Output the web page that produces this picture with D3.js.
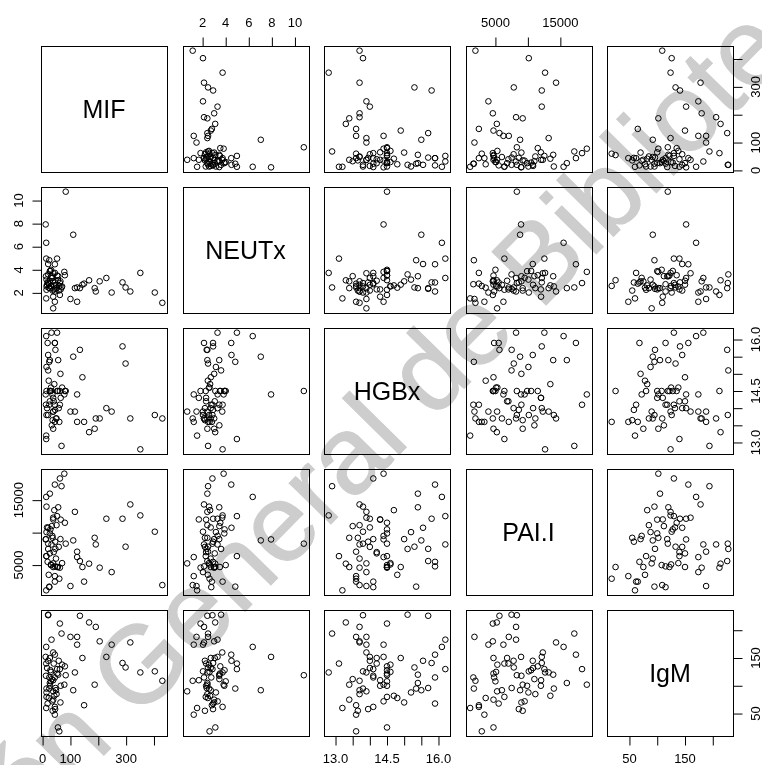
<!DOCTYPE html>
<html><head><meta charset="utf-8">
<script src="https://cdn.jsdelivr.net/npm/d3@7"></script>
<style>body{margin:0;background:#fff}svg{display:block}</style>
</head><body><svg id="c" width="762" height="765"></svg>
<script>
const varNames = ["MIF","NEUTx","HGBx","PAI.I","IgM"];
const MIF   = [430,403,351,315,298,287,248,229,205,191,187,167,149,143,134,124,124,116,110,100,83,11,13,
               13,24,52,20,44,26,44,78,80,56,12,14,32,38,20,62,14,26,50,68,14,44,62,38,13,44,38,
               20,30,35,40,45,55,60,65,28,18,48,58,22,70,33,42,26,36,52,16,64,30,46,24,38];
const NEUTx = [1.14,2.03,3.73,2.12,2.47,2.91,2.03,3.29,3.0,2.12,2.41,3.09,2.8,2.71,2.41,2.47,1.23,2.41,7.04,1.47,10.77,7.93,6.34,
               4.97,4.83,4.97,4.5,4.48,3.88,3.73,3.82,3.53,3.44,3.44,3.15,3.29,3.0,2.85,2.85,2.56,2.41,2.41,2.47,2.27,2.12,1.82,1.67,1.52,1.23,0.66,
               3.6,2.6,3.3,2.3,2.9,3.1,2.6,2.3,3.9,2.9,2.7,2.2,2.45,2.55,3.45,2.65,3.05,2.2,3.5,2.7,3.0,4.0,2.35,2.75,3.7];
const HGBx  = [13.7,13.8,12.8,13.7,15.3,15.8,13.9,14.0,13.7,13.7,13.4,13.3,13.6,14.9,15.7,13.6,14.4,13.9,15.5,13.9,14.5,14.4,16.1,
               13.1,15.35,16.2,15.55,15.9,14.5,14.1,14.4,14.5,15.4,14.1,15.2,16.2,13.4,13.8,14.1,13.8,15.4,13.7,12.9,14.5,15.9,14.5,14.3,13.2,13.6,13.9,
               15.1,14.6,14.4,14.2,13.95,14.5,13.6,14.3,14.5,15.9,13.7,14.0,14.8,14.6,13.5,14.7,14.2,13.65,14.5,14.0,15.0,14.5,15.7,14.1,13.9];
const PAI   = [1920,10140,12650,14340,7830,12140,3920,12140,4600,8180,9200,5215,2450,4700,5620,7060,6230,13200,8800,1770,8300,8950,15500,
               6380,1680,12540,10750,17400,9880,2450,19080,11520,13900,9000,10080,8180,4700,8300,18340,14000,16000,11150,17150,6380,4800,4600,12030,1110,3300,5260,
               7480,5100,9500,7000,8600,4700,2900,12000,10500,5500,6000,7800,3500,5300,11000,13460,6800,9200,4700,10800,9000,5000,7500,1600,12300];
const IgM   = [109,126,124,178,133,141,174,152,180,206,102,214,65,150,226,188,174,124,92,188,119,152,170,
               140,95,130,145,156,100,62,102,135,120,118,88,183,75,227,130,95,105,85,194,80,115,212,110,60,48,90,
               228,125,72,140,58,25,18,100,128,68,92,145,78,138,112,82,150,55,122,132,70,108,96,115,160];

const tickValues = [[0,100,200,300,400],[2,4,6,8,10],[13,13.5,14,14.5,15,15.5,16],[5000,10000,15000],[50,100,150,200]];
const tickLabels = [["0","100","","300",""],["2","4","6","8","10"],["13.0","","","14.5","","","16.0"],["5000","","15000"],["50","","150",""]];
const watermark = "Dirección General de Bibliotecas";

const cols = [MIF, NEUTx, HGBx, PAI, IgM];
const n = varNames.length;
const colX = [41,182.5,324,465.5,607];
const rowY = [46,187,328,469,610];
const size = 126;
const font = "'Liberation Sans', Arial, Helvetica, sans-serif";

const svg = d3.select("#c");

function dom(arr){ const [a,b]=d3.extent(arr); const p=(b-a)*0.04; return [a-p,b+p]; }
const xScales = cols.map((c,i)=>d3.scaleLinear().domain(dom(c)).range([colX[i], colX[i]+size]));
const yScales = cols.map((c,i)=>d3.scaleLinear().domain(dom(c)).range([rowY[i]+size, rowY[i]]));

const plot = svg.append("g");
for (let r=0;r<n;r++){
  for (let c=0;c<n;c++){
    const g = plot.append("g");
    if (r===c){
      g.append("text").attr("x",colX[c]+size/2).attr("y",rowY[r]+size/2)
        .attr("text-anchor","middle").attr("dominant-baseline","central")
        .attr("font-family",font).attr("font-size",25).text(varNames[r]);
    } else {
      const xs = xScales[c], ys = yScales[r];
      g.selectAll("circle").data(d3.range(MIF.length)).join("circle")
        .attr("cx",k=>xs(cols[c][k])).attr("cy",k=>ys(cols[r][k])).attr("r",2.8)
        .attr("fill","none").attr("stroke","#000").attr("stroke-width",1);
    }
    g.append("rect").attr("x",Math.round(colX[c])+0.5).attr("y",Math.round(rowY[r])+0.5)
      .attr("width",size).attr("height",size).attr("fill","none").attr("stroke","#000").attr("stroke-width",1);
  }
}

// axes
const axG = svg.append("g");
function labelText(x,y,t,rot){
  const el = axG.append("text").attr("text-anchor","middle").attr("dominant-baseline","central")
    .attr("font-family",font).attr("font-size",13).attr("fill","#000").text(t);
  if (rot) el.attr("transform",`translate(${x},${y}) rotate(-90)`); else el.attr("x",x).attr("y",y);
}
for (let i=0;i<n;i++){
  const tv = tickValues[i], tl = tickLabels[i];
  if (i%2===1){
    axG.append("g").attr("transform",`translate(0,${Math.round(rowY[0])+0.5})`)
      .call(d3.axisTop(xScales[i]).tickValues(tv).tickSize(9).tickFormat(""))
      .call(a=>a.select(".domain").remove());
    tv.forEach((v,k)=>{ if(tl[k]) labelText(xScales[i](v), 22.7, tl[k], false); });
    axG.append("g").attr("transform",`translate(${Math.round(colX[0])+0.5},0)`)
      .call(d3.axisLeft(yScales[i]).tickValues(tv).tickSize(9).tickFormat(""))
      .call(a=>a.select(".domain").remove());
    tv.forEach((v,k)=>{ if(tl[k]) labelText(18, yScales[i](v), tl[k], true); });
  } else {
    axG.append("g").attr("transform",`translate(0,${Math.round(rowY[n-1])+size+0.5})`)
      .call(d3.axisBottom(xScales[i]).tickValues(tv).tickSize(9).tickFormat(""))
      .call(a=>a.select(".domain").remove());
    tv.forEach((v,k)=>{ if(tl[k]) labelText(xScales[i](v), 758.3, tl[k], false); });
    axG.append("g").attr("transform",`translate(${Math.round(colX[n-1])+size+0.5},0)`)
      .call(d3.axisRight(yScales[i]).tickValues(tv).tickSize(9).tickFormat(""))
      .call(a=>a.select(".domain").remove());
    tv.forEach((v,k)=>{ if(tl[k]) labelText(755.3, yScales[i](v), tl[k], true); });
  }
}
axG.selectAll(".tick line").attr("stroke","#000").attr("stroke-width",1);

// watermark (multiplied so dark marks stay dark)
svg.append("text").attr("transform","translate(326,474) rotate(-45.5)")
  .attr("text-anchor","middle").attr("dominant-baseline","central")
  .attr("font-family",font).attr("font-size",110)
  .attr("fill","#cdcdcd").attr("stroke","#cdcdcd").attr("stroke-width",1.2)
  .style("mix-blend-mode","multiply")
  .text(watermark);
</script></body></html>
